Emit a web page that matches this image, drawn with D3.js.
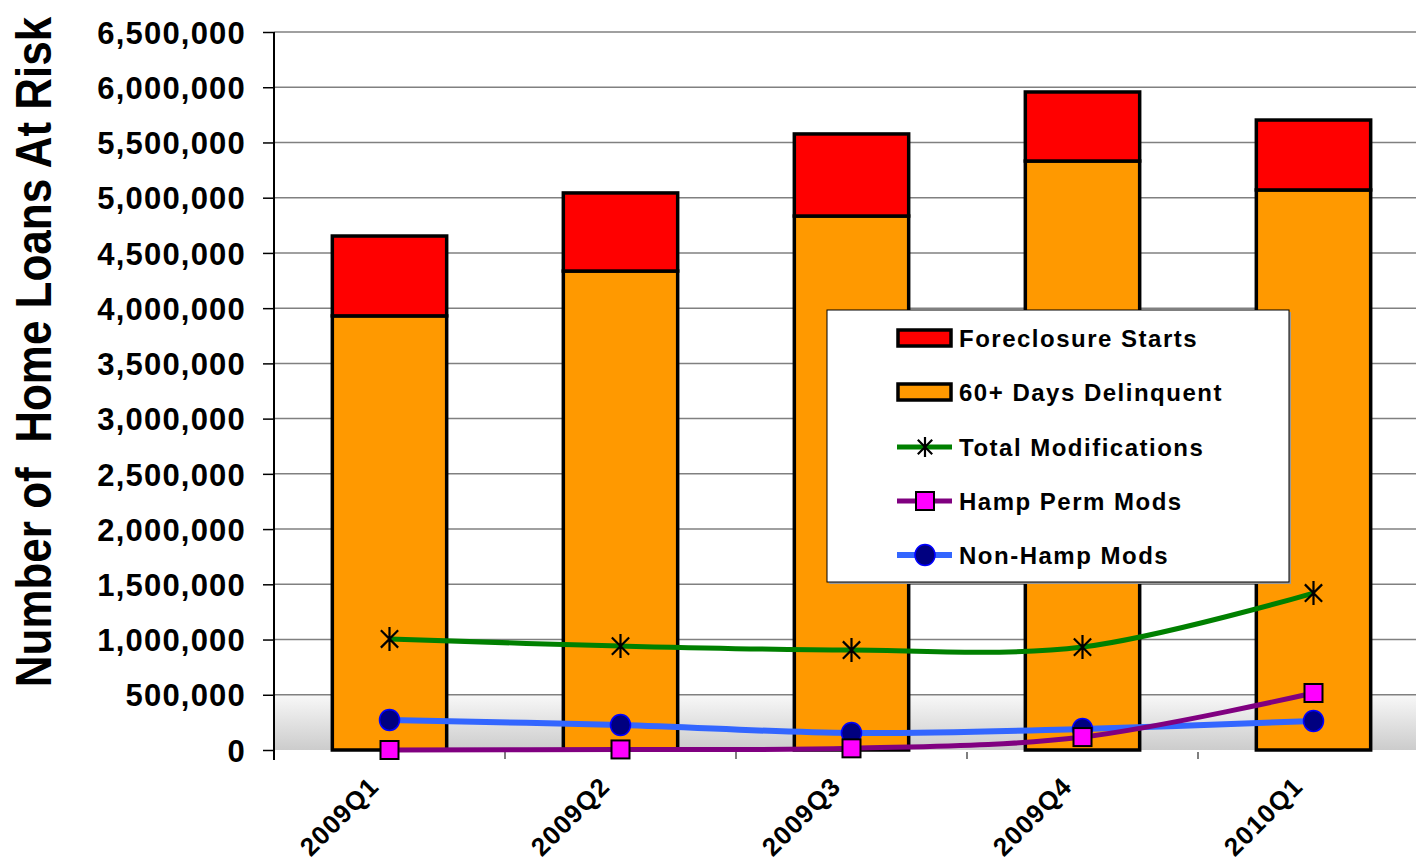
<!DOCTYPE html>
<html>
<head>
<meta charset="utf-8">
<script src="https://cdn.jsdelivr.net/npm/d3@7"></script>
<style>
  body { margin: 0; background: #fff; }
  text { font-family: "Liberation Sans", Arial, sans-serif; font-weight: bold; fill: #000; }
</style>
</head>
<body>
<div id="my_dataviz"></div>
<script>
// data
var quarters = ["2009Q1", "2009Q2", "2009Q3", "2009Q4", "2010Q1"];
var delinquent = [3930000, 4336000, 4834000, 5332000, 5070000];
var foreclosure = [723000, 707000, 743000, 625000, 633000];
var totalMods = [1005000, 941000, 905000, 932000, 1421000];
var hampMods = [0, 5000, 15000, 117000, 516000];
var nonHampMods = [272000, 226000, 154000, 190000, 263000];
var yTicks = [0, 500000, 1000000, 1500000, 2000000, 2500000, 3000000, 3500000, 4000000, 4500000, 5000000, 5500000, 6000000, 6500000];

var margin = { top: 32, right: 0, bottom: 112, left: 274 },
  W = 1416, H = 862,
  height = H - margin.top - margin.bottom;

var svg = d3.select("#my_dataviz")
  .append("svg")
  .attr("width", W)
  .attr("height", H);

var defs = svg.append("defs");
var grad = defs.append("linearGradient")
  .attr("id", "bggrad")
  .attr("x1", 0).attr("y1", 0).attr("x2", 0).attr("y2", 1);
grad.append("stop").attr("offset", "0%").attr("stop-color", "#f8f8f8");
grad.append("stop").attr("offset", "100%").attr("stop-color", "#cccccc");

// category step is 231px, the plot runs a little past the right edge
var x0 = margin.left, x1 = margin.left + 5 * 231;
var x = d3.scaleBand()
  .domain(quarters)
  .range([x0, x1])
  .paddingInner(0.505)
  .paddingOuter(0.2525);

var y = d3.scaleLinear()
  .domain([0, 6500000])
  .range([margin.top + height, margin.top]);

var xc = function(d) { return x(d) + x.bandwidth() / 2; };

// plot background: white with grey fade in the lowest band
svg.append("rect")
  .attr("x", x0).attr("y", y(500000))
  .attr("width", x1 - x0).attr("height", y(0) - y(500000))
  .attr("fill", "url(#bggrad)");

// gridlines
svg.append("g")
  .selectAll("line")
  .data(yTicks.slice(1))
  .enter()
  .append("line")
  .attr("x1", x0).attr("x2", x1)
  .attr("y1", function(d) { return y(d); })
  .attr("y2", function(d) { return y(d); })
  .attr("stroke", "#808080")
  .attr("stroke-width", 1.5);

// Y axis
var yAxis = svg.append("g")
  .attr("transform", "translate(" + x0 + ",0)")
  .call(d3.axisLeft(y).tickValues(yTicks).tickSize(11).tickPadding(17)
    .tickFormat(d3.format(",")));
yAxis.select(".domain").remove();
yAxis.selectAll("line").attr("stroke", "#000").attr("stroke-width", 1.5);
yAxis.selectAll("text")
  .style("font-size", "31px")
  .style("letter-spacing", "1.2px")
  .attr("dy", "0.36em");
svg.append("line")
  .attr("x1", x0).attr("x2", x0)
  .attr("y1", y(6500000)).attr("y2", y(0) + 10)
  .attr("stroke", "#000").attr("stroke-width", 2);

// X axis ticks at category boundaries
var bounds = d3.range(6).map(function(i) { return x0 + i * 231; });
svg.append("g")
  .selectAll("line")
  .data(bounds.slice(1))
  .enter()
  .append("line")
  .attr("x1", function(d) { return d; }).attr("x2", function(d) { return d; })
  .attr("y1", y(0) + 2).attr("y2", y(0) + 9)
  .attr("stroke", "#555").attr("stroke-width", 1.5);

// X labels
svg.append("g")
  .selectAll("text")
  .data(quarters)
  .enter()
  .append("text")
  .attr("text-anchor", "end")
  .attr("transform", function(d) {
    return "translate(" + (xc(d) - 9) + "," + (y(0) + 38) + ")rotate(-45)";
  })
  .style("font-size", "26px")
  .style("letter-spacing", "1px")
  .text(function(d) { return d; });

// Y title
svg.append("text")
  .attr("text-anchor", "middle")
  .attr("transform", "translate(51,352)rotate(-90)scale(1,1.12)")
  .style("font-size", "44px")
  .style("white-space", "pre")
  .text("Number of  Home Loans At Risk");

// stacked bars
var bars = svg.append("g");
bars.selectAll(".del")
  .data(quarters)
  .enter()
  .append("rect")
  .attr("class", "del")
  .attr("x", function(d) { return x(d); })
  .attr("width", x.bandwidth())
  .attr("y", function(d, i) { return y(delinquent[i]); })
  .attr("height", function(d, i) { return y(0) - y(delinquent[i]); })
  .attr("fill", "#ff9900")
  .attr("stroke", "#000")
  .attr("stroke-width", 3.5);
bars.selectAll(".fc")
  .data(quarters)
  .enter()
  .append("rect")
  .attr("class", "fc")
  .attr("x", function(d) { return x(d); })
  .attr("width", x.bandwidth())
  .attr("y", function(d, i) { return y(delinquent[i] + foreclosure[i]); })
  .attr("height", function(d, i) { return y(delinquent[i]) - y(delinquent[i] + foreclosure[i]); })
  .attr("fill", "#ff0000")
  .attr("stroke", "#000")
  .attr("stroke-width", 3.5);

// lines
var line = d3.line()
  .x(function(d) { return xc(d.q); })
  .y(function(d) { return y(d.v); })
  .curve(d3.curveCardinal.tension(0));

function series(vals) {
  return quarters.map(function(q, i) { return { q: q, v: vals[i] }; });
}

function drawStar(g, cx, cy, s) {
  var d = s * 0.72;
  g.append("path")
    .attr("d", "M" + cx + "," + (cy - s) + "L" + cx + "," + (cy + s) +
      "M" + (cx - d) + "," + (cy - d) + "L" + (cx + d) + "," + (cy + d) +
      "M" + (cx - d) + "," + (cy + d) + "L" + (cx + d) + "," + (cy - d))
    .attr("stroke", "#000").attr("stroke-width", 2.2).attr("fill", "none");
}
function drawSquare(g, cx, cy) {
  g.append("rect")
    .attr("x", cx - 9).attr("y", cy - 9)
    .attr("width", 18).attr("height", 18)
    .attr("fill", "#ff00ff").attr("stroke", "#000").attr("stroke-width", 2);
}
function drawDot(g, cx, cy) {
  g.append("ellipse")
    .attr("cx", cx).attr("cy", cy).attr("rx", 10).attr("ry", 10.5)
    .attr("fill", "#000080").attr("stroke", "#0000ff").attr("stroke-width", 1.5);
}

var lines = svg.append("g");
lines.append("path").datum(series(totalMods))
  .attr("d", line).attr("fill", "none").attr("stroke", "#008000").attr("stroke-width", 5);
lines.append("path").datum(series(nonHampMods))
  .attr("d", line).attr("fill", "none").attr("stroke", "#3366ff").attr("stroke-width", 6);
lines.append("path").datum(series(hampMods))
  .attr("d", line).attr("fill", "none").attr("stroke", "#800080").attr("stroke-width", 5);

series(totalMods).forEach(function(d) { drawStar(lines, xc(d.q), y(d.v), 12); });
series(nonHampMods).forEach(function(d) { drawDot(lines, xc(d.q), y(d.v)); });
series(hampMods).forEach(function(d) { drawSquare(lines, xc(d.q), y(d.v)); });

// legend
var lg = svg.append("g");
lg.append("rect")
  .attr("x", 829).attr("y", 312).attr("width", 462).attr("height", 272)
  .attr("fill", "#999");
lg.append("rect")
  .attr("x", 827).attr("y", 310).attr("width", 462).attr("height", 272)
  .attr("fill", "#fff").attr("stroke", "#000").attr("stroke-width", 1);

var legendKeys = ["Foreclosure Starts", "60+ Days Delinquent", "Total Modifications", "Hamp Perm Mods", "Non-Hamp Mods"];
var rowY = [338, 392, 447, 501, 555];
legendKeys.forEach(function(k, i) {
  var cy = rowY[i];
  if (i < 2) {
    lg.append("rect")
      .attr("x", 898).attr("y", cy - 8).attr("width", 53).attr("height", 16)
      .attr("fill", i === 0 ? "#ff0000" : "#ff9900")
      .attr("stroke", "#000").attr("stroke-width", 3.5);
  } else {
    var col = ["#008000", "#800080", "#3366ff"][i - 2];
    lg.append("line")
      .attr("x1", 897).attr("x2", 952).attr("y1", cy).attr("y2", cy)
      .attr("stroke", col).attr("stroke-width", i === 4 ? 6 : 5);
    if (i === 2) drawStar(lg, 925, cy, 10);
    if (i === 3) drawSquare(lg, 925, cy);
    if (i === 4) drawDot(lg, 925, cy);
  }
  lg.append("text")
    .attr("x", 959).attr("y", cy)
    .attr("dy", "0.36em")
    .style("font-size", "24px")
    .style("letter-spacing", "1.5px")
    .text(k);
});
</script>
</body>
</html>
